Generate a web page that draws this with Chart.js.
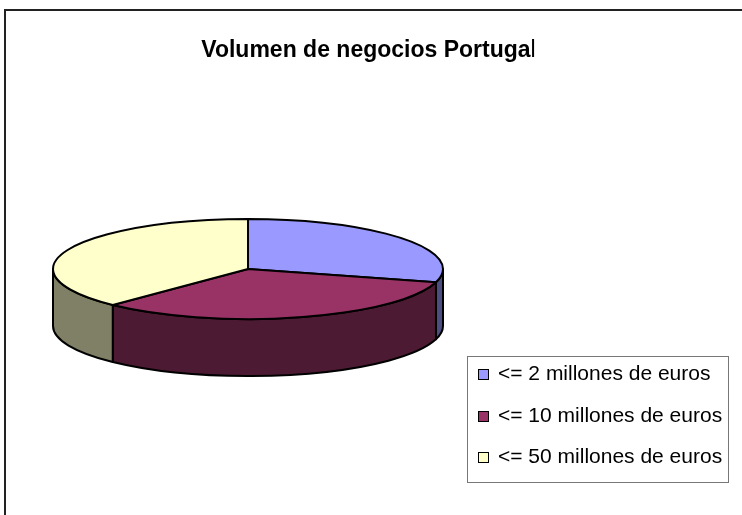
<!DOCTYPE html>
<html>
<head>
<meta charset="utf-8">
<script src="https://cdn.jsdelivr.net/npm/chart.js@4.4.0/dist/chart.umd.min.js"></script>
<style>
    body { margin: 0; background: #fff; font-family: "Liberation Sans", Arial, sans-serif; }
    #wrap { position: relative; width: 742px; height: 515px; overflow: hidden; }
    #frame { position: absolute; left: 4px; top: 9px; width: 800px; height: 600px; border-top: 2px solid #222; border-left: 2px solid #222; }
    #chart { position: absolute; left: 0; top: 0; }
    #title { position: absolute; left: 0; top: 38px; width: 737px; text-align: center; font-size: 23px; line-height: 23px; font-weight: bold; color: #000; }
    #title span { font-weight: normal; }
    #legend { position: absolute; left: 467px; top: 356px; width: 260px; height: 125px; border: 1px solid #777; }
    .item { position: absolute; left: 0; height: 24px; font-size: 21px; line-height: 24px; white-space: nowrap; color: #000; }
    .swatch { position: absolute; left: 10px; top: 8px; width: 9px; height: 9px; border: 1px solid #000; }
    .label { position: absolute; left: 30px; top: 0; }
</style>
</head>
<body>
<div id="wrap">
    <div id="frame"></div>
    <canvas id="chart" width="742" height="515"></canvas>
    <div id="title">Volumen de negocios Portuga<span>l</span></div>
    <div id="legend"></div>
</div>
<script>
// Data
const labels = ['<= 2 millones de euros', '<= 10 millones de euros', '<= 50 millones de euros'];
const shares = [29.3, 32.9, 37.8];

// Styles
const topColors = ['#9999FF', '#993366', '#FFFFCC'];
const sideColors = ['#4D4D80', '#4D1A33', '#808066'];
const tilt = 0.2564;   // ellipse height / width
const depth = 57;      // thickness of the pie in px

// Draw the pie as a tilted disc, using the arc angles that Chart.js computed
const pie3d = {
    id: 'pie3d',
    beforeDatasetDraw(chart, args) {
        const ctx = chart.ctx;
        const arcs = chart.getDatasetMeta(args.index).data;
        if (!arcs.length) return false;

        ctx.save();
        ctx.lineWidth = 2;
        ctx.strokeStyle = '#000';
        ctx.lineJoin = 'round';

        // front walls first
        arcs.forEach((arc, i) => {
            const { x, y, startAngle, endAngle, outerRadius } = arc.getProps(['x', 'y', 'startAngle', 'endAngle', 'outerRadius']);
            const rx = outerRadius, ry = outerRadius * tilt;
            [0, 2 * Math.PI].forEach(k => {
                const a1 = Math.max(startAngle, k);
                const a2 = Math.min(endAngle, k + Math.PI);
                if (a2 <= a1) return;
                ctx.beginPath();
                ctx.ellipse(x, y, rx, ry, 0, a1, a2);
                ctx.ellipse(x, y + depth, rx, ry, 0, a2, a1, true);
                ctx.closePath();
                ctx.fillStyle = sideColors[i];
                ctx.fill();
                ctx.stroke();
            });
        });

        // then the top face
        arcs.forEach((arc, i) => {
            const { x, y, startAngle, endAngle, outerRadius } = arc.getProps(['x', 'y', 'startAngle', 'endAngle', 'outerRadius']);
            ctx.beginPath();
            ctx.moveTo(x, y);
            ctx.ellipse(x, y, outerRadius, outerRadius * tilt, 0, startAngle, endAngle);
            ctx.closePath();
            ctx.fillStyle = topColors[i];
            ctx.fill();
            ctx.stroke();
        });

        ctx.restore();
        return false;
    }
};

new Chart(document.getElementById('chart'), {
    type: 'pie',
    data: {
        labels: labels,
        datasets: [{
            data: shares,
            backgroundColor: topColors,
            borderWidth: 0
        }]
    },
    options: {
        responsive: false,
        animation: false,
        events: [],
        devicePixelRatio: 1,
        radius: 195,
        layout: {
            padding: { left: 53, right: 299, top: 74, bottom: 51 }
        },
        plugins: {
            legend: { display: false },
            title: { display: false },
            tooltip: { enabled: false }
        }
    },
    plugins: [pie3d]
});

// Legend
const legend = document.getElementById('legend');
const rowTops = [4, 46, 87];
labels.forEach((label, i) => {
    const item = document.createElement('div');
    item.className = 'item';
    item.style.top = rowTops[i] + 'px';
    const sw = document.createElement('div');
    sw.className = 'swatch';
    sw.style.background = topColors[i];
    const txt = document.createElement('div');
    txt.className = 'label';
    txt.textContent = label;
    item.appendChild(sw);
    item.appendChild(txt);
    legend.appendChild(item);
});
</script>
</body>
</html>
